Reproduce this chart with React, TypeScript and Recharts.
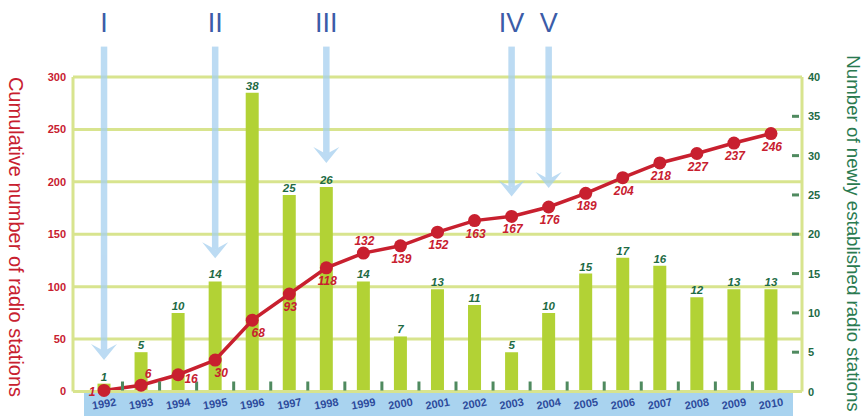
import React from "react";
import { Bar, CartesianGrid, ComposedChart, LabelList, Line, ReferenceLine, XAxis, YAxis } from "recharts";

const years = ["1992", "1993", "1994", "1995", "1996", "1997", "1998", "1999", "2000", "2001", "2002", "2003", "2004", "2005", "2006", "2007", "2008", "2009", "2010"];
const newStations = [1, 5, 10, 14, 38, 25, 26, 14, 7, 13, 11, 5, 10, 15, 17, 16, 12, 13, 13];
const cumulative = [1, 6, 16, 30, 68, 93, 118, 132, 139, 152, 163, 167, 176, 189, 204, 218, 227, 237, 246];
const leftTicks = [0, 50, 100, 150, 200, 250, 300];
const rightTicks = [0, 5, 10, 15, 20, 25, 30, 35, 40];

// phase markers (arrows from the top of the chart down to a value on the left axis)
const phases = ["I", "II", "III", "IV", "V"];
const phaseYears = ["1992", "1995", "1998", "2003", "2004"];
const phaseEnds = [30, 127, 218, 186, 194];
const arrowStart = 329;

// where each cumulative label sits relative to its dot
const cumSpot = ["left", "upRight", "right", "belowRight", "belowRight", "below", "below", "above", "below", "below", "below", "below", "below", "below", "below", "below", "below", "below", "below"];
const spotOffset: Record<string, [number, number]> = {
  left: [-12, 2],
  upRight: [7, -11],
  right: [13, 4],
  belowRight: [6, 13],
  below: [1, 13],
  above: [1, -12],
};

const data = years.map((year, i) => ({ year, added: newStations[i], total: cumulative[i] }));

const RED = "#c8202f";
const GREEN_TXT = "#1e6b45";
const GRID = "#d8e48e";
const BAR = "#b2d235";
const BLUE_TXT = "#2d4b9c";
const FONT = "'Liberation Sans', Arial, sans-serif";

function YearTick({ x, y, payload, index }: any) {
  const ty = y + 12;
  return (
    <g>
      {index < years.length - 1 && (
        <line x1={x + 18.5} x2={x + 18.5} y1={y - 10} y2={y - 1} stroke="#4f8a5f" strokeWidth={3} />
      )}
      <text
        x={x}
        y={ty}
        transform={`rotate(-10 ${x} ${ty})`}
        textAnchor="middle"
        dominantBaseline="central"
        fill={BLUE_TXT}
        fontSize={11}
        fontWeight="bold"
        fontFamily={FONT}
      >
        {payload.value}
      </text>
    </g>
  );
}

function RightTick({ x, y, payload }: any) {
  const v = payload.value;
  return (
    <g>
      {v > 0 && v < 40 && <line x1={x - 10} x2={x - 3} y1={y} y2={y} stroke="#4f8a5f" strokeWidth={3} />}
      <text x={x + 6} y={y} dominantBaseline="central" fill={GREEN_TXT} fontSize={11} fontWeight="bold" fontFamily={FONT}>
        {v}
      </text>
    </g>
  );
}

function BarValue({ x, y, width, value }: any) {
  return (
    <text x={x + width / 2} y={y - 7} textAnchor="middle" dominantBaseline="central" fill={GREEN_TXT} fontSize={11.5} fontWeight="bold" fontStyle="italic" fontFamily={FONT}>
      {value}
    </text>
  );
}

function TotalValue({ x, y, value, index }: any) {
  const [dx, dy] = spotOffset[cumSpot[index]];
  return (
    <text x={x + dx} y={y + dy} textAnchor="middle" dominantBaseline="central" fill={RED} fontSize={12} fontWeight="bold" fontStyle="italic" fontFamily={FONT}>
      {value}
    </text>
  );
}

const phaseArrow = (label: string) => (props: any) => {
  const { x1, y1, y2 } = props;
  const top = Math.min(y1, y2);
  const tip = Math.max(y1, y2);
  return (
    <g>
      <text x={x1} y={top - 15} textAnchor="middle" fill="#3b5ca8" fontSize={27} fontFamily={FONT}>
        {label}
      </text>
      <g opacity={0.75} fill="#a6d0ef">
        <rect x={x1 - 3.25} y={top} width={6.5} height={tip - top - 9} />
        <polygon points={`${x1 - 13},${tip - 16} ${x1},${tip - 9} ${x1 + 13},${tip - 16} ${x1},${tip}`} />
      </g>
    </g>
  );
};

export default function App() {
  return (
    <div style={{ position: "absolute", left: 0, top: 0, width: 864, height: 416, background: "#fff" }}>
      <div style={{ position: "absolute", left: 84, top: 393, width: 709, height: 23, background: "#a9d3ef" }} />
      <div style={{ position: "absolute", left: 0, top: 0 }}>
        <ComposedChart width={864} height={416} data={data} margin={{ top: 77, right: 0, bottom: 0, left: 0 }}>
          <CartesianGrid yAxisId="left" vertical={false} stroke={GRID} strokeWidth={3} />
          <XAxis
            dataKey="year"
            interval={0}
            padding={{ left: 12.5, right: 12.5 }}
            height={24.5}
            tickSize={0}
            tickMargin={0}
            axisLine={{ stroke: GRID, strokeWidth: 3 }}
            tickLine={false}
            tick={<YearTick />}
          />
          <YAxis
            yAxisId="left"
            domain={[0, 300]}
            ticks={leftTicks}
            width={73}
            tickSize={0}
            tickMargin={7}
            axisLine={{ stroke: GRID, strokeWidth: 3 }}
            tickLine={false}
            tick={{ fill: RED, fontSize: 11, fontWeight: "bold", fontFamily: FONT }}
          />
          <YAxis
            yAxisId="right"
            orientation="right"
            domain={[0, 40]}
            ticks={rightTicks}
            width={62}
            tickSize={0}
            tickMargin={0}
            axisLine={{ stroke: GRID, strokeWidth: 3 }}
            tickLine={false}
            tick={<RightTick />}
          />
          {phases.map((p, i) => (
            <ReferenceLine
              key={p}
              yAxisId="left"
              ifOverflow="visible"
              segment={[
                { x: phaseYears[i], y: arrowStart },
                { x: phaseYears[i], y: phaseEnds[i] },
              ]}
              shape={phaseArrow(p)}
            />
          ))}
          <Bar yAxisId="right" dataKey="added" fill={BAR} barSize={13} isAnimationActive={false}>
            <LabelList dataKey="added" content={<BarValue />} />
          </Bar>
          <Line
            yAxisId="left"
            dataKey="total"
            stroke={RED}
            strokeWidth={3.5}
            dot={{ r: 6.5, fill: RED, stroke: "none" }}
            activeDot={false}
            isAnimationActive={false}
          >
            <LabelList dataKey="total" content={<TotalValue />} />
          </Line>
        </ComposedChart>
      </div>
      <svg width={864} height={416} style={{ position: "absolute", left: 0, top: 0, pointerEvents: "none" }}>
        <text x={16} y={237} transform="rotate(90 16 237)" textAnchor="middle" dominantBaseline="central" fill={RED} fontSize={20} fontFamily={FONT}>
          Cumulative number of radio stations
        </text>
        <text x={853.5} y={233.5} transform="rotate(90 853.5 233.5)" textAnchor="middle" dominantBaseline="central" fill="#2a7a50" fontSize={18.7} fontFamily={FONT}>
          Number of newly established radio stations
        </text>
      </svg>
    </div>
  );
}
